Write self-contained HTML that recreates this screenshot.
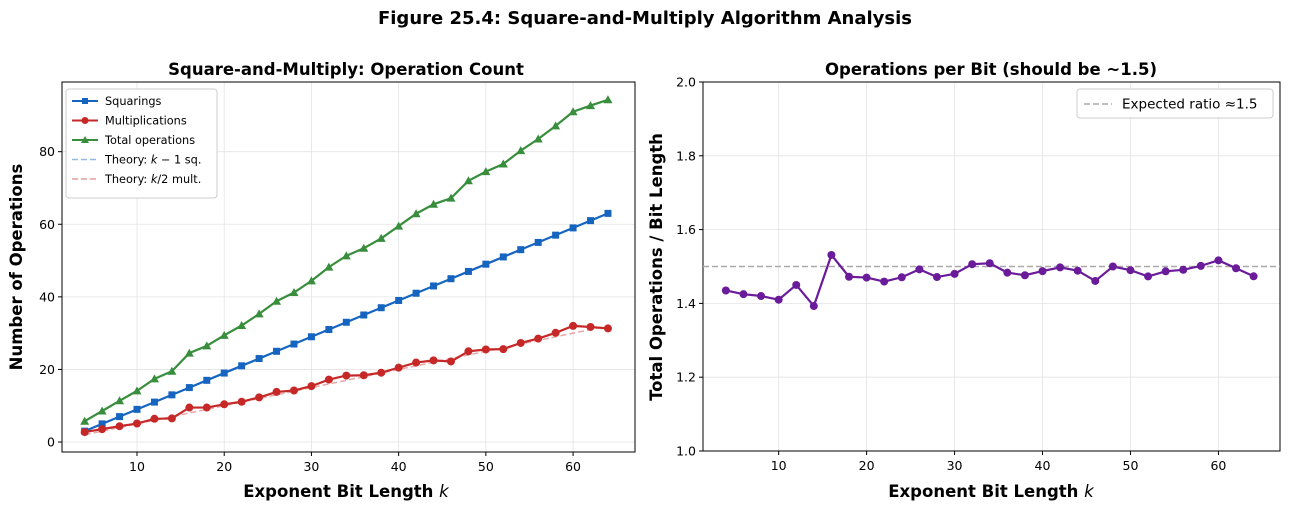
<!DOCTYPE html>
<html><head><meta charset="utf-8"><style>
body{margin:0;background:#fff;font-family:"Liberation Sans","DejaVu Sans",sans-serif}
svg text{font-family:"DejaVu Sans","Liberation Sans",sans-serif}
</style></head><body>
<svg id="c" width="1289" height="509" xmlns="http://www.w3.org/2000/svg">
<text x="645" y="24" text-anchor="middle" font-size="18" font-weight="bold">Figure 25.4: Square-and-Multiply Algorithm Analysis</text>
</svg>
<script>
const bitLengths=[4,6,8,10,12,14,16,18,20,22,24,26,28,30,32,34,36,38,40,42,44,46,48,50,52,54,56,58,60,62,64];
const multiplications=[2.74,3.55,4.36,5.1,6.4,6.5,9.5,9.5,10.4,11.1,12.3,13.8,14.2,15.4,17.2,18.3,18.4,19.1,20.5,21.9,22.5,22.2,25.0,25.5,25.6,27.3,28.5,30.1,32.0,31.7,31.3];
const leftYTicks=[0,20,40,60,80];
const xTicks=[10,20,30,40,50,60];
const rightYTicks=[1.0,1.2,1.4,1.6,1.8,2.0];
const squarings=bitLengths.map(k=>k-1);
const totals=bitLengths.map((k,i)=>squarings[i]+multiplications[i]);
const ratios=bitLengths.map((k,i)=>totals[i]/k);
const NS="http://www.w3.org/2000/svg",svg=document.getElementById('c');
function el(t,a,p){const e=document.createElementNS(NS,t);for(const k in a)e.setAttribute(k,a[k]);(p||svg).appendChild(e);return e;}
function axes(L,R,T,B,x0,x1,y0,y1){return{sx:v=>L+(v-x0)/(x1-x0)*(R-L),sy:v=>B-(v-y0)/(y1-y0)*(B-T),L,R,T,B};}
function frame(a,yt,fmt,name){
 const g=el('g',{});
 xTicks.forEach(t=>{const x=a.sx(t);el('line',{x1:x,x2:x,y1:a.T,y2:a.B,stroke:'#e3e3e3','stroke-width':0.8},g);el('line',{x1:x,x2:x,y1:a.B,y2:a.B+4,stroke:'#000'},g);
  const tx=el('text',{x:x,y:a.B+19,'text-anchor':'middle','font-size':12.5},g);tx.textContent=t;});
 yt.forEach(t=>{const y=a.sy(t);el('line',{x1:a.L,x2:a.R,y1:y,y2:y,stroke:'#e3e3e3','stroke-width':0.8},g);el('line',{x1:a.L-4,x2:a.L,y1:y,y2:y,stroke:'#000'},g);
  const tx=el('text',{x:a.L-7,y:y+4.5,'text-anchor':'end','font-size':12.5},g);tx.textContent=fmt(t);});
 el('rect',{x:a.L,y:a.T,width:a.R-a.L,height:a.B-a.T,fill:'none',stroke:'#000','stroke-width':1},g);
}
function series(a,xs,ys,color,marker,name){
 const g=el('g',{});
 el('polyline',{points:xs.map((x,i)=>a.sx(x)+','+a.sy(ys[i])).join(' '),fill:'none',stroke:color,'stroke-width':2.2},g);
 xs.forEach((x,i)=>{const cx=a.sx(x),cy=a.sy(ys[i]);let m;
  if(marker=='s')m=el('rect',{x:cx-3.5,y:cy-3.5,width:7,height:7,fill:color},g);
  else if(marker=='^')m=el('polygon',{points:`${cx},${cy-4.5} ${cx-4.5},${cy+3.5} ${cx+4.5},${cy+3.5}`,fill:color},g);
  else m=el('circle',{cx,cy,r:4,fill:color},g);
  });
}
function txt(x,y,s,o,name){const t=el('text',Object.assign({x,y},o));t.innerHTML=s;return t;}
// left
const A=axes(62,635,82,452,1.4,67.1,-2.75,99.2);
frame(A,leftYTicks,v=>v,'left-axes');
el('line',{x1:A.sx(4),y1:A.sy(3),x2:A.sx(64),y2:A.sy(63),stroke:'#1565c0','stroke-width':1.5,'stroke-dasharray':'6,3',opacity:0.4});
el('line',{x1:A.sx(4),y1:A.sy(2),x2:A.sx(64),y2:A.sy(32),stroke:'#c62828','stroke-width':1.5,'stroke-dasharray':'6,3',opacity:0.4});
series(A,bitLengths,squarings,'#1565c0','s','squarings-series');
series(A,bitLengths,multiplications,'#c62828','o','multiplications-series');
series(A,bitLengths,totals,'#388e3c','^','total-series');
txt(346,75,'Square-and-Multiply: Operation Count',{'text-anchor':'middle','font-size':16.5,'font-weight':'bold'},'left-title');
txt(346,497,'Exponent Bit Length <tspan font-style="italic" font-weight="normal">k</tspan>',{'text-anchor':'middle','font-size':16.5,'font-weight':'bold'},'left-x-axis-title');
txt(22,267,'Number of Operations',{'text-anchor':'middle','font-size':16.5,'font-weight':'bold',transform:'rotate(-90 22 267)'},'left-y-axis-title');
// legend
const lg=el('g',{});
el('rect',{x:66,y:89,width:151,height:109,fill:'#fff',stroke:'#ccc',rx:3},lg);
[['Squarings','#1565c0','s',false],['Multiplications','#c62828','o',false],['Total operations','#388e3c','^',false],['Theory: <tspan font-style="italic">k</tspan> − 1 sq.','#1565c0','',true],['Theory: <tspan font-style="italic">k</tspan>/2 mult.','#c62828','',true]].forEach((e,i)=>{
 const y=101+i*19.5;
 el('line',{x1:72,x2:98,y1:y,y2:y,stroke:e[1],'stroke-width':e[3]?1.5:2,'stroke-dasharray':e[3]?'6,3':'',opacity:e[3]?0.45:1},lg);
 if(e[2]=='s')el('rect',{x:82,y:y-3,width:6,height:6,fill:e[1]},lg);
 if(e[2]=='o')el('circle',{cx:85,cy:y,r:3.5,fill:e[1]},lg);
 if(e[2]=='^')el('polygon',{points:`85,${y-4} 81,${y+3} 89,${y+3}`,fill:e[1]},lg);
 const t=el('text',{x:105,y:y+4,'font-size':11.3},lg);t.innerHTML=e[0];
});
// right
const B=axes(703,1280,82,451,1.4,67.0,1.0,2.0);
frame(B,rightYTicks,v=>v.toFixed(1),'right-axes');
el('line',{x1:B.L,x2:B.R,y1:B.sy(1.5),y2:B.sy(1.5),stroke:'#aaa','stroke-width':1.5,'stroke-dasharray':'6,3',});
series(B,bitLengths,ratios,'#6a1b9a','o','ratio-series');
txt(991,75,'Operations per Bit (should be ~1.5)',{'text-anchor':'middle','font-size':16.5,'font-weight':'bold'},'right-title');
txt(991,497,'Exponent Bit Length <tspan font-style="italic" font-weight="normal">k</tspan>',{'text-anchor':'middle','font-size':16.5,'font-weight':'bold'},'right-x-axis-title');
txt(662,267,'Total Operations / Bit Length',{'text-anchor':'middle','font-size':16.5,'font-weight':'bold',transform:'rotate(-90 662 267)'},'right-y-axis-title');
const rl=el('g',{});
el('rect',{x:1077,y:89,width:196,height:29,fill:'#fff',stroke:'#ccc',rx:3},rl);
el('line',{x1:1084,x2:1112,y1:104,y2:104,stroke:'#aaa','stroke-width':1.5,'stroke-dasharray':'6,3'},rl);
const rt=el('text',{x:1122,y:108.5,'font-size':13.5},rl);rt.textContent='Expected ratio ≈1.5';
</script>
</body></html>
